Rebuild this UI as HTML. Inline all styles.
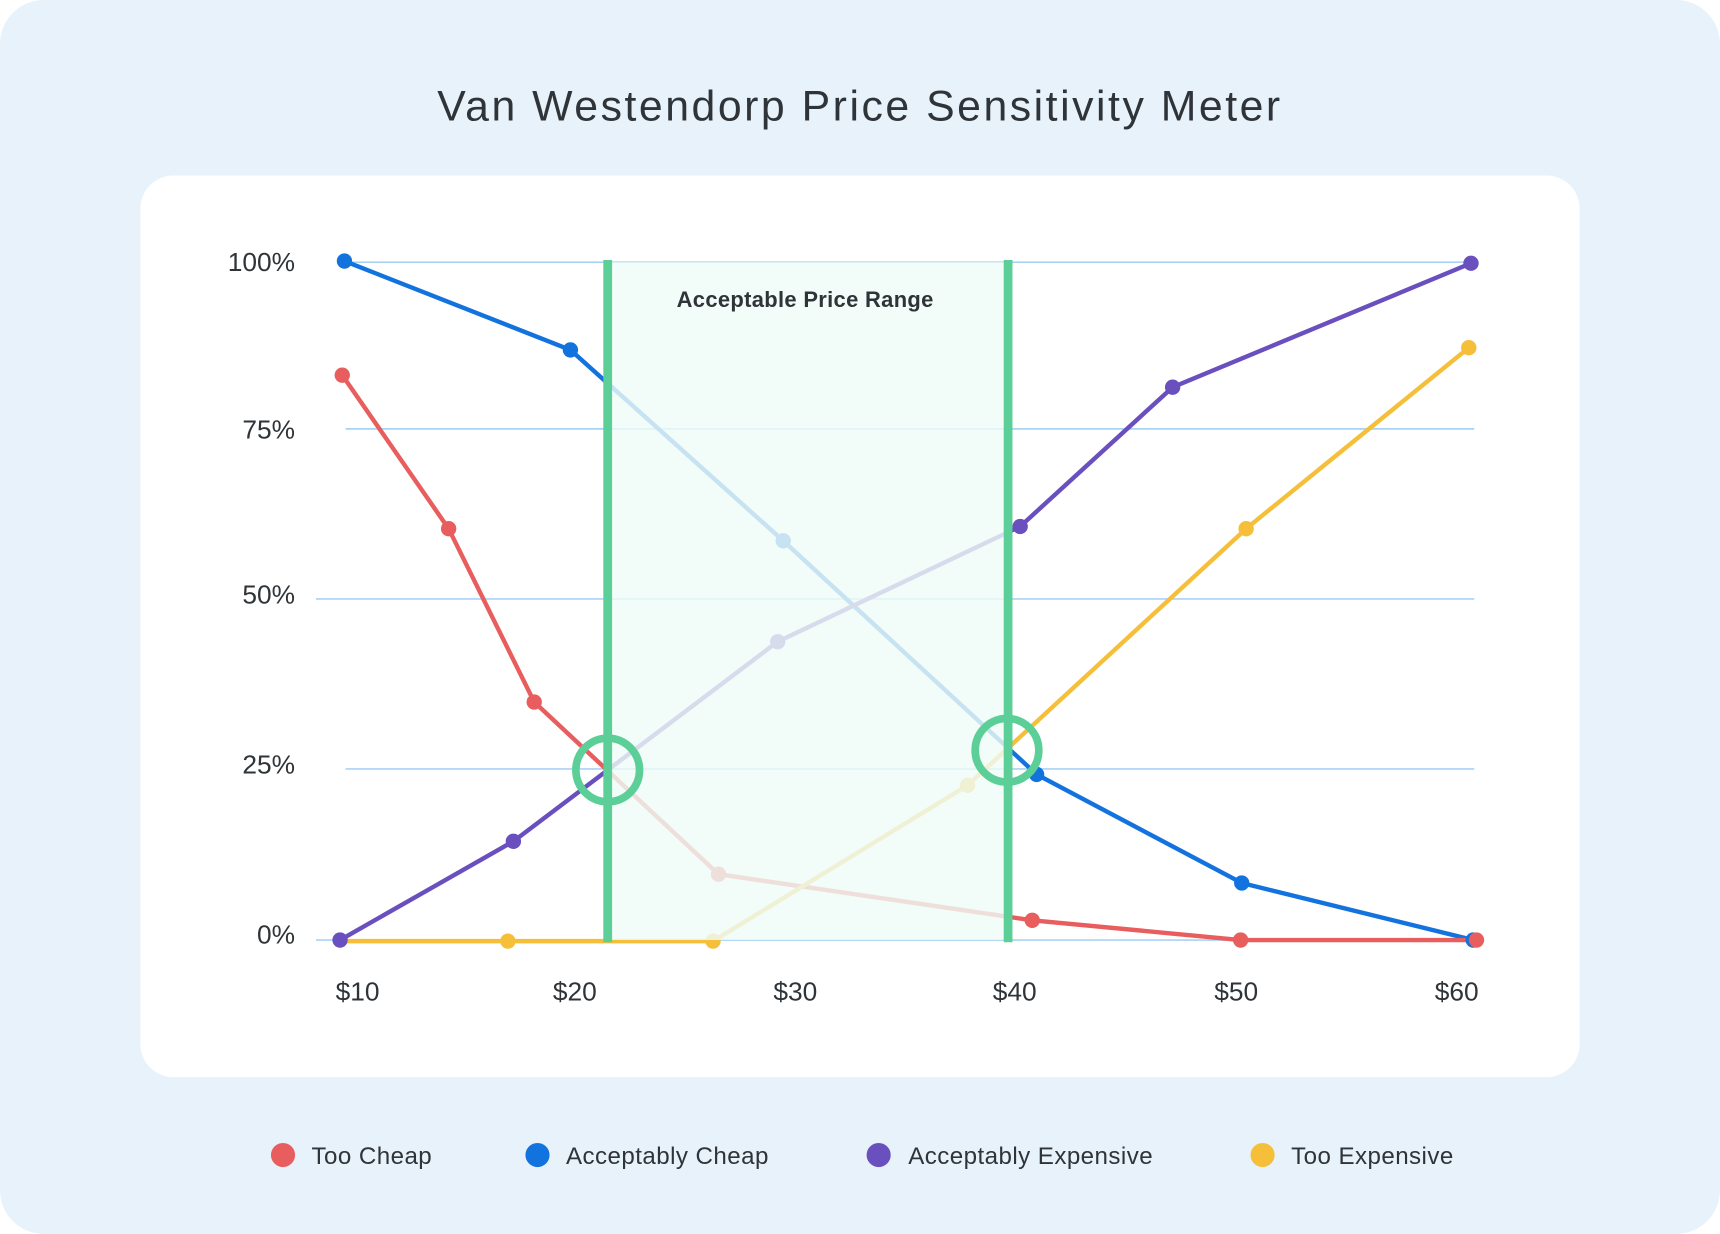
<!DOCTYPE html>
<html><head><meta charset="utf-8"><style>
html,body{margin:0;padding:0;background:#fff;}
svg{display:block;}
text{font-family:"Liberation Sans",sans-serif;}
</style></head><body>
<svg width="1720" height="1234" viewBox="0 0 1568 1125" preserveAspectRatio="none" xmlns="http://www.w3.org/2000/svg">
<rect x="0" y="0" width="1568" height="1125" rx="40" fill="#e8f2fb"/>
<text x="784" y="110" text-anchor="middle" font-size="39" fill="#2f3438" letter-spacing="2.3">Van Westendorp Price Sensitivity Meter</text>
<rect x="128" y="160" width="1312" height="822" rx="30" fill="#ffffff"/>
<g stroke="#a9d3f4" stroke-width="1.5">
<line x1="315" y1="239" x2="1344" y2="239"/>
<line x1="315" y1="391" x2="1344" y2="391"/>
<line x1="288" y1="546" x2="1344" y2="546"/>
<line x1="315" y1="701" x2="1344" y2="701"/>
<line x1="288" y1="857" x2="1344" y2="857"/>
</g>
<g font-size="24" fill="#2f3438" text-anchor="end">
<text x="269" y="247">100%</text>
<text x="269" y="400">75%</text>
<text x="269" y="550">50%</text>
<text x="269" y="705">25%</text>
<text x="269" y="860">0%</text>
</g>
<g font-size="24" fill="#2f3438" text-anchor="middle">
<text x="326" y="912">$10</text>
<text x="524" y="912">$20</text>
<text x="725" y="912">$30</text>
<text x="925" y="912">$40</text>
<text x="1127" y="912">$50</text>
<text x="1328" y="912">$60</text>
</g>
<g fill="none" stroke-width="4" stroke-linejoin="round">
<polyline stroke="#1273de" points="314,238 520,319 714,493 945,706 1132,805 1343,857"/>
<polyline stroke="#e85d5d" points="312,342 409,482 487,640 655,797 941,839 1131,857 1346,857"/>
<polyline stroke="#6a4fbf" points="310,857 468,767 709,585 930,480 1069,353 1341,240"/>
<polyline stroke="#f5bf3a" points="310,858 463,858 650,858 882,716 1136,482 1339,317"/>
</g>
<g fill="#1273de"><circle cx="314" cy="238" r="7"/><circle cx="520" cy="319" r="7"/><circle cx="714" cy="493" r="7"/><circle cx="945" cy="706" r="7"/><circle cx="1132" cy="805" r="7"/><circle cx="1343" cy="857" r="7"/></g>
<g fill="#e85d5d"><circle cx="312" cy="342" r="7"/><circle cx="409" cy="482" r="7"/><circle cx="487" cy="640" r="7"/><circle cx="655" cy="797" r="7"/><circle cx="941" cy="839" r="7"/><circle cx="1131" cy="857" r="7"/><circle cx="1346" cy="857" r="7"/></g>
<g fill="#6a4fbf"><circle cx="310" cy="857" r="7"/><circle cx="468" cy="767" r="7"/><circle cx="709" cy="585" r="7"/><circle cx="930" cy="480" r="7"/><circle cx="1069" cy="353" r="7"/><circle cx="1341" cy="240" r="7"/></g>
<g fill="#f5bf3a"><circle cx="463" cy="858" r="7"/><circle cx="650" cy="858" r="7"/><circle cx="882" cy="716" r="7"/><circle cx="1136" cy="482" r="7"/><circle cx="1339" cy="317" r="7"/></g>
<rect x="554" y="239" width="365" height="618" fill="#effbf6" fill-opacity="0.82"/>
<text x="734" y="280" text-anchor="middle" font-size="20" font-weight="bold" fill="#2f3438" letter-spacing="0.3">Acceptable Price Range</text>
<g stroke="#5ccf98" stroke-width="8">
<line x1="554" y1="237" x2="554" y2="859"/>
<line x1="919" y1="237" x2="919" y2="859"/>
</g>
<g fill="none" stroke="#5ccf98" stroke-width="7">
<circle cx="554" cy="702" r="29"/>
<circle cx="918" cy="684" r="29"/>
</g>
<g font-size="22" fill="#2f3438" letter-spacing="0.4">
<circle cx="258" cy="1053" r="11" fill="#e85d5d"/><text x="284" y="1061">Too Cheap</text>
<circle cx="490" cy="1053" r="11" fill="#1273de"/><text x="516" y="1061">Acceptably Cheap</text>
<circle cx="801" cy="1053" r="11" fill="#6a4fbf"/><text x="828" y="1061">Acceptably Expensive</text>
<circle cx="1151" cy="1053" r="11" fill="#f5bf3a"/><text x="1177" y="1061">Too Expensive</text>
</g>
</svg>
</body></html>
